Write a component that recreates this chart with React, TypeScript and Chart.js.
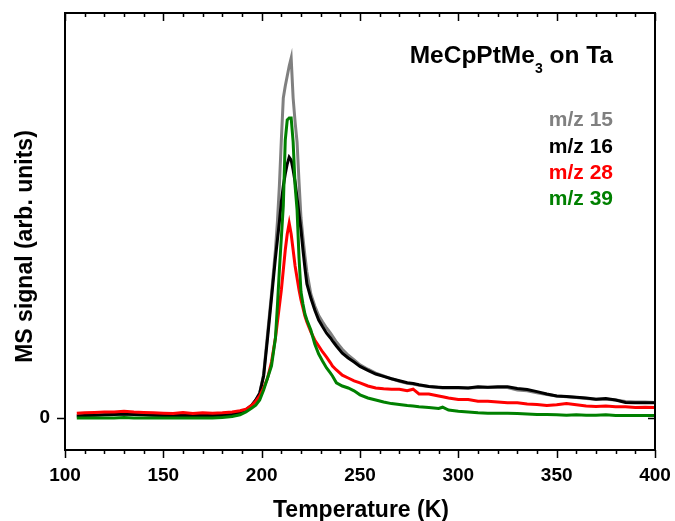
import React, { useEffect, useRef } from "react";
import { Chart, registerables } from "chart.js";

Chart.register(...registerables);

// Temperature grid (K)
const temperatures = [
  106, 110, 115, 120, 125, 130, 135, 140, 145, 150,
  155, 160, 165, 170, 175, 180, 185, 189, 192, 195,
  197, 199, 201, 203, 205, 207, 208, 209, 210, 211,
  212, 213, 214, 215, 216, 217, 218, 219, 220, 221,
  222, 223, 225, 227, 229, 231, 233, 235, 236, 238,
  241, 244, 247, 250, 254, 258, 262, 266, 270, 274,
  277, 280, 285, 290, 292, 295, 300, 305, 310, 315,
  320, 325, 330, 335, 340, 345, 350, 355, 360, 365,
  370, 375, 380, 385, 390, 395, 400,
];

// m/z 15 (grey)
const mz15 = [
  0.05, 0.06, 0.07, 0.08, 0.09, 0.09, 0.09, 0.08, 0.07, 0.06,
  0.06, 0.06, 0.06, 0.06, 0.06, 0.07, 0.09, 0.13, 0.2, 0.32,
  0.45, 0.62, 1.1, 2.1, 3.1, 4.2, 4.9, 5.8, 6.95, 8.0,
  8.3, 8.55, 8.8, 9.0, 8.0, 7.4, 6.9, 5.9, 5.0, 4.5,
  4.05, 3.65, 3.1, 2.8, 2.56, 2.4, 2.25, 2.12, 2.05, 1.9,
  1.72, 1.57, 1.45, 1.33, 1.22, 1.12, 1.05, 0.98, 0.92, 0.87,
  0.85, 0.82, 0.79, 0.76, 0.75, 0.75, 0.75, 0.75, 0.76, 0.76,
  0.76, 0.76, 0.7, 0.68, 0.63, 0.59, 0.55, 0.53, 0.51, 0.49,
  0.47, 0.47, 0.45, 0.41, 0.4, 0.4, 0.39,
];

// m/z 16 (black)
const mz16 = [
  0.05, 0.06, 0.07, 0.08, 0.09, 0.1, 0.09, 0.08, 0.07, 0.06,
  0.06, 0.07, 0.06, 0.07, 0.06, 0.07, 0.09, 0.13, 0.2, 0.32,
  0.45, 0.62, 1.05, 2.0, 3.0, 4.0, 4.45, 4.9, 5.4, 5.8,
  6.1, 6.35, 6.52, 6.45, 6.2, 5.9, 5.5, 5.1, 4.7, 4.2,
  3.75, 3.35, 3.0, 2.7, 2.45, 2.28, 2.12, 2.0, 1.93, 1.8,
  1.62, 1.5, 1.4, 1.29, 1.19, 1.1, 1.04, 0.98, 0.93, 0.88,
  0.86, 0.83, 0.79, 0.77, 0.76, 0.76, 0.76, 0.75, 0.78, 0.77,
  0.78, 0.78, 0.74, 0.71, 0.66, 0.6, 0.55, 0.54, 0.52, 0.5,
  0.47, 0.49, 0.45, 0.39, 0.38, 0.38, 0.38,
];

// m/z 28 (red)
const mz28 = [
  0.12, 0.13, 0.14, 0.15, 0.15, 0.17, 0.15, 0.14, 0.13, 0.12,
  0.11, 0.14, 0.11, 0.13, 0.12, 0.13, 0.15, 0.18, 0.22, 0.32,
  0.42, 0.55, 0.75, 1.0, 1.4, 2.0, 2.4, 2.8, 3.2, 3.7,
  4.2, 4.6, 4.87, 4.6, 4.2, 3.8, 3.5, 3.2, 2.95, 2.75,
  2.55, 2.4, 2.15, 1.95, 1.8, 1.65, 1.52, 1.38, 1.3, 1.2,
  1.07, 1.0, 0.93, 0.88, 0.8, 0.75, 0.73, 0.72, 0.72, 0.68,
  0.72, 0.6, 0.6, 0.55, 0.53, 0.5, 0.46, 0.46, 0.42, 0.42,
  0.4, 0.38, 0.38, 0.35, 0.34, 0.31, 0.33, 0.36, 0.33, 0.3,
  0.29, 0.3, 0.28, 0.28, 0.26, 0.27, 0.26,
];

// m/z 39 (green)
const mz39 = [
  0.0, 0.0, 0.0, 0.0, 0.0, 0.01, 0.0, 0.0, 0.0, 0.0,
  0.0, 0.0, 0.0, 0.0, 0.0, 0.01, 0.04, 0.08, 0.15, 0.25,
  0.32, 0.45, 0.7, 1.0, 1.3, 2.0, 2.8, 3.7, 4.5, 5.3,
  6.95, 7.45, 7.5, 7.5, 6.9, 5.8, 5.2, 4.0, 3.15, 2.85,
  2.6, 2.45, 2.2, 1.85, 1.6, 1.42, 1.25, 1.12, 1.05, 0.88,
  0.8, 0.75, 0.68, 0.58, 0.5, 0.45, 0.4, 0.36, 0.34, 0.31,
  0.3, 0.28, 0.26, 0.24, 0.27, 0.2, 0.17, 0.15, 0.13, 0.12,
  0.12, 0.12, 0.11, 0.1, 0.09, 0.09, 0.08, 0.07, 0.08, 0.07,
  0.07, 0.08, 0.06, 0.06, 0.06, 0.06, 0.06,
];

const seriesLabels = ["m/z 15", "m/z 16", "m/z 28", "m/z 39"];
const seriesColors = ["#808080", "#000000", "#ff0000", "#008000"];
const seriesValues = [mz15, mz16, mz28, mz39];

const xTickValues = [100, 150, 200, 250, 300, 350, 400];
const yTickValues = [0];

const FONT = "'Liberation Sans', Arial, Helvetica, sans-serif";

const framePlugin = {
  id: "frameAndText",
  afterDatasetsDraw(chart: any) {
    const { ctx, chartArea } = chart;
    const xs = chart.scales.x;
    const ys = chart.scales.y;
    const { left, right, top, bottom } = chartArea;
    ctx.save();
    ctx.strokeStyle = "#000";
    ctx.lineWidth = 2;
    ctx.strokeRect(left, top, right - left, bottom - top);

    // x ticks: minor every 10, major every 50
    ctx.lineWidth = 1.5;
    for (let v = xs.min; v <= xs.max + 0.001; v += 10) {
      const px = Math.round(xs.getPixelForValue(v)) + 0.5;
      const major = Math.abs(v % 50) < 0.001;
      const len = major ? 8 : 4;
      ctx.beginPath();
      ctx.moveTo(px, bottom);
      ctx.lineTo(px, bottom + len);
      ctx.moveTo(px, top);
      ctx.lineTo(px, top + len);
      ctx.stroke();
    }
    // y ticks
    yTickValues.forEach((v) => {
      const py = Math.round(ys.getPixelForValue(v)) + 0.5;
      ctx.beginPath();
      ctx.moveTo(left - 8, py);
      ctx.lineTo(left, py);
      ctx.moveTo(right - 7, py);
      ctx.lineTo(right, py);
      ctx.stroke();
    });

    ctx.fillStyle = "#000";
    // x title
    ctx.font = `bold 23px ${FONT}`;
    ctx.textAlign = "center";
    ctx.textBaseline = "alphabetic";
    ctx.fillText("Temperature (K)", (left + right) / 2 + 1, 517);

    // y title
    ctx.save();
    ctx.translate(32, 246.5);
    ctx.rotate(-Math.PI / 2);
    ctx.fillText("MS signal (arb. units)", 0, 0);
    ctx.restore();

    // annotation
    const rightEdge = 613;
    ctx.textAlign = "left";
    ctx.font = `bold 24.5px ${FONT}`;
    const p1 = "MeCpPtMe";
    const p3 = " on Ta";
    const w1 = ctx.measureText(p1).width;
    const w3 = ctx.measureText(p3).width;
    ctx.font = `bold 14px ${FONT}`;
    const w2 = ctx.measureText("3").width;
    let sx = rightEdge - (w1 + w2 + w3);
    ctx.font = `bold 24.5px ${FONT}`;
    ctx.fillText(p1, sx, 63);
    sx += w1;
    ctx.font = `bold 14px ${FONT}`;
    ctx.fillText("3", sx, 73);
    sx += w2;
    ctx.font = `bold 24.5px ${FONT}`;
    ctx.fillText(p3, sx, 63);

    // legend texts
    ctx.font = `bold 21px ${FONT}`;
    ctx.textAlign = "right";
    const baselines = [126, 152.5, 179, 204.5];
    seriesLabels.forEach((lab, i) => {
      ctx.fillStyle = seriesColors[i];
      ctx.fillText(lab, rightEdge, baselines[i]);
    });
    ctx.restore();
  },
};

export default function App() {
  const canvasRef = useRef<HTMLCanvasElement | null>(null);

  useEffect(() => {
    const canvas = canvasRef.current;
    if (!canvas) return;
    const datasets = seriesLabels.map((label, i) => ({
      label,
      data: temperatures.map((t, j) => ({ x: t, y: seriesValues[i][j] })),
      borderColor: seriesColors[i],
      backgroundColor: seriesColors[i],
      borderWidth: 3,
      pointRadius: 0,
      tension: 0,
      fill: false,
      order: 4 - i,
    }));
    const chart = new Chart(canvas, {
      type: "line",
      data: { datasets },
      options: {
        responsive: false,
        animation: false,
        devicePixelRatio: 1,
        layout: { padding: { top: 13, right: 20, left: 0, bottom: 0 } },
        plugins: {
          legend: { display: false },
          tooltip: { enabled: false },
          title: { display: false },
        },
        scales: {
          x: {
            type: "linear",
            min: 100,
            max: 400,
            afterBuildTicks: (s: any) => {
              s.ticks = xTickValues.map((v) => ({ value: v }));
            },
            afterFit: (s: any) => {
              s.height = 71;
              s.paddingLeft = 0;
              s.paddingRight = 0;
            },
            grid: { display: false, drawTicks: false },
            border: { display: false },
            ticks: {
              font: { family: FONT, size: 19, weight: "bold" },
              color: "#000",
              padding: 14,
              maxRotation: 0,
              autoSkip: false,
            },
          },
          y: {
            type: "linear",
            min: -0.8,
            max: 10.125,
            afterBuildTicks: (s: any) => {
              s.ticks = yTickValues.map((v) => ({ value: v }));
            },
            afterFit: (s: any) => {
              s.width = 65;
              s.paddingTop = 0;
              s.paddingBottom = 0;
            },
            grid: { display: false, drawTicks: false },
            border: { display: false },
            ticks: {
              font: { family: FONT, size: 19, weight: "bold" },
              color: "#000",
              padding: 15,
              callback: (v: any) => String(v),
            },
          },
        },
      },
      plugins: [framePlugin],
    });
    return () => chart.destroy();
  }, []);

  return (
    <div style={{ position: "absolute", left: 0, top: 0, width: 675, height: 521, background: "#fff" }}>
      <canvas ref={canvasRef} width={675} height={521} style={{ display: "block" }} />
    </div>
  );
}
